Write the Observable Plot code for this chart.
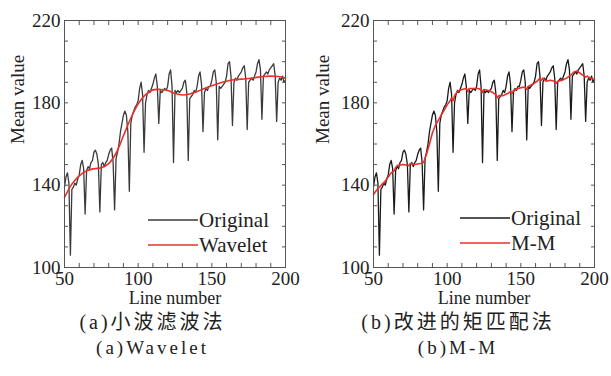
<!DOCTYPE html>
<html><head><meta charset="utf-8">
<script src="https://cdn.jsdelivr.net/npm/d3@7"></script>
<script src="https://cdn.jsdelivr.net/npm/@observablehq/plot@0.6"></script>
<style>
body{margin:0;background:#fff;}
#wrap{display:flex;width:611px;}
.panel{position:relative;}
.cap{font-family:"Liberation Serif","Times New Roman","Noto Sans CJK SC",serif;font-size:19px;color:#222;text-align:center;line-height:25px;}
.cap1{font-size:20px;letter-spacing:3px;}
.cap2{letter-spacing:3px;}
</style></head>
<body><div id="wrap"><div class="panel" id="p1"></div><div class="panel" id="p2"></div></div>
<script>
// Line numbers 50..200 and the original mean values
const lineNumbers = d3.range(50, 201);
const originalValues = [
  139,144,146,141,106,138,139,141,140,143,
  145,150,152,148,126,147,149,148,151,152,
  156,157,155,150,127,150,151,149,151,152,
  155,157,158,151,128,153,156,160,166,170,
  174,176,174,166,137,170,174,176,178,179,
  181,187,190,184,156,180,184,186,185,187,
  189,192,194,188,170,186,185,186,187,186,
  188,194,196,188,151,186,185,186,185,186,
  187,190,191,185,152,182,183,184,186,185,
  188,193,195,189,166,185,187,186,188,188,
  191,195,196,190,162,188,187,188,189,190,
  193,199,200,193,169,190,192,191,193,194,
  195,197,198,192,167,190,191,192,191,193,
  195,199,201,196,172,193,194,195,194,196,
  197,198,199,193,171,190,192,191,193,190,
  191
];
// Wavelet smoothed
const waveletLines  = [50,55,60,65,70,75,80,85,90,95,100,105,110,115,120,125,130,135,140,145,150,155,160,165,170,175,180,185,190,195,200];
const waveletValues = [134,140.5,144.5,147,148,148.5,150.5,155.5,164,172.5,179.5,184,186.3,186.5,186,184.5,183.8,184.3,185.5,187,188.3,189.5,190.5,191.2,191.5,191.8,192.3,192.8,193,192.8,192];
// M-M smoothed
const mmLines  = [50,52,54,56,58,60,62,64,65,66,70,74,75,78,82,84,86,88,90,92,94,96,98,100,102,103,104,105,107,110,113,114,115,118,121,123,124,125,128,131,133,134,135,138,141,143,144,145,148,151,153,154,155,158,161,163,164,165,167,170,173,174,175,178,181,184,186,188,190,192,194,195,197,200];
const mmValues = [135.5,137.5,139,140.5,142,144,146,147,148.5,149.5,150,149.5,150.5,150,150.5,151,155,160,165.5,169,171.5,174,176.5,179,181,182.5,181,183.5,185.5,186.5,187,185.5,187,187,187,186.5,185,186.5,186,185,184,182.5,183.5,183.5,184.5,185.5,184.5,186,187,187.5,187.5,186.5,188,189,190.5,192,191,192,190.5,191,190.5,189.5,190.5,191,192,193.5,195,195.5,194.5,193.5,192.5,193,192,191.5];
const xTickLabels = [50,100,150,200];
const yTickLabels = [100,140,180,220];
const xMinorTicks = d3.range(50, 201, 10);
const yMinorTicks = d3.range(100, 221, 10);
const serif = "'Liberation Serif', 'Times New Roman', 'DejaVu Serif', serif";

function makePanel(el, {width, marginLeft, marginRight, smoothX, smoothY, smoothName, curve, origColor, legendX, legendY, caption1, caption2}) {
  const orig = lineNumbers.map((x, i) => ({x, y: originalValues[i]}));
  const sm = smoothX.map((x, i) => ({x, y: smoothY[i]}));
  const plot = Plot.plot({
    width, height: 310, marginTop: 20, marginBottom: 43, marginLeft, marginRight,
    style: {fontFamily: serif, fontSize: "19px", color: "#222", background: "#fff"},
    x: {domain: [50, 200]},
    y: {domain: [100, 220]},
    marks: [
      Plot.line(orig, {x: "x", y: "y", stroke: origColor, strokeWidth: 1.3}),
      Plot.line(sm, {x: "x", y: "y", stroke: "#e8302a", strokeWidth: 1.6, curve}),
      Plot.frame({stroke: "#555"}),
      Plot.axisX({ticks: xTickLabels, tickSize: 0, tickPadding: 4, label: null, fontSize: 19}),
      Plot.axisX({ticks: xMinorTicks, anchor: "bottom", tickSize: -4, fill: "none", label: null, stroke: "#555"}),
      Plot.axisX({ticks: xMinorTicks, anchor: "top", tickSize: -4, fill: "none", label: null, stroke: "#555"}),
      Plot.axisY({ticks: yTickLabels, tickSize: 0, tickPadding: 4, label: null, fontSize: 19}),
      Plot.axisY({ticks: yMinorTicks, anchor: "left", tickSize: -4, fill: "none", label: null, stroke: "#555"}),
      Plot.axisY({ticks: yMinorTicks, anchor: "right", tickSize: -4, fill: "none", label: null, stroke: "#555"}),
      Plot.text(["Line number"], {frameAnchor: "bottom", dy: 36, fontSize: 18, fill: "#222"}),
      Plot.text(["Mean value"], {frameAnchor: "left", dx: -(marginLeft - 17), rotate: -90, fontSize: 19, fill: "#222"})
    ]
  });
  el.appendChild(plot);
  // legend
  const svg = d3.select(plot);
  const g = svg.append("g").attr("font-family", serif).attr("font-size", 21).attr("fill", "#222").attr("text-anchor", "start");
  const items = [{name: "Original", color: origColor, w: 1.3}, {name: smoothName, color: "#e8302a", w: 1.6}];
  items.forEach((it, i) => {
    const y = legendY + i * 25;
    g.append("line").attr("x1", legendX).attr("x2", legendX + 50).attr("y1", y).attr("y2", y)
      .attr("stroke", it.color).attr("stroke-width", it.w);
    g.append("text").attr("x", legendX + 51).attr("y", y).attr("dy", "0.35em").attr("text-anchor", "start").text(it.name);
  });
  const c1 = document.createElement("div"); c1.className = "cap cap1"; c1.textContent = caption1;
  const c2 = document.createElement("div"); c2.className = "cap cap2"; c2.textContent = caption2;
  c1.style.width = c2.style.width = width + "px";
  el.appendChild(c1); el.appendChild(c2);
}

makePanel(document.getElementById("p1"), {
  width: 305, marginLeft: 64, marginRight: 20,
  smoothX: waveletLines, smoothY: waveletValues, smoothName: "Wavelet", curve: "catmull-rom",
  origColor: "#3a3a3a", legendX: 148, legendY: 220,
  caption1: "(a)小波滤波法", caption2: "(a)Wavelet"
});
makePanel(document.getElementById("p2"), {
  width: 306, marginLeft: 68, marginRight: 17,
  smoothX: mmLines, smoothY: mmValues, smoothName: "M-M", curve: "linear",
  origColor: "#1a1a1a", legendX: 155, legendY: 218,
  caption1: "(b)改进的矩匹配法", caption2: "(b)M-M"
});
</script>
</body></html>
